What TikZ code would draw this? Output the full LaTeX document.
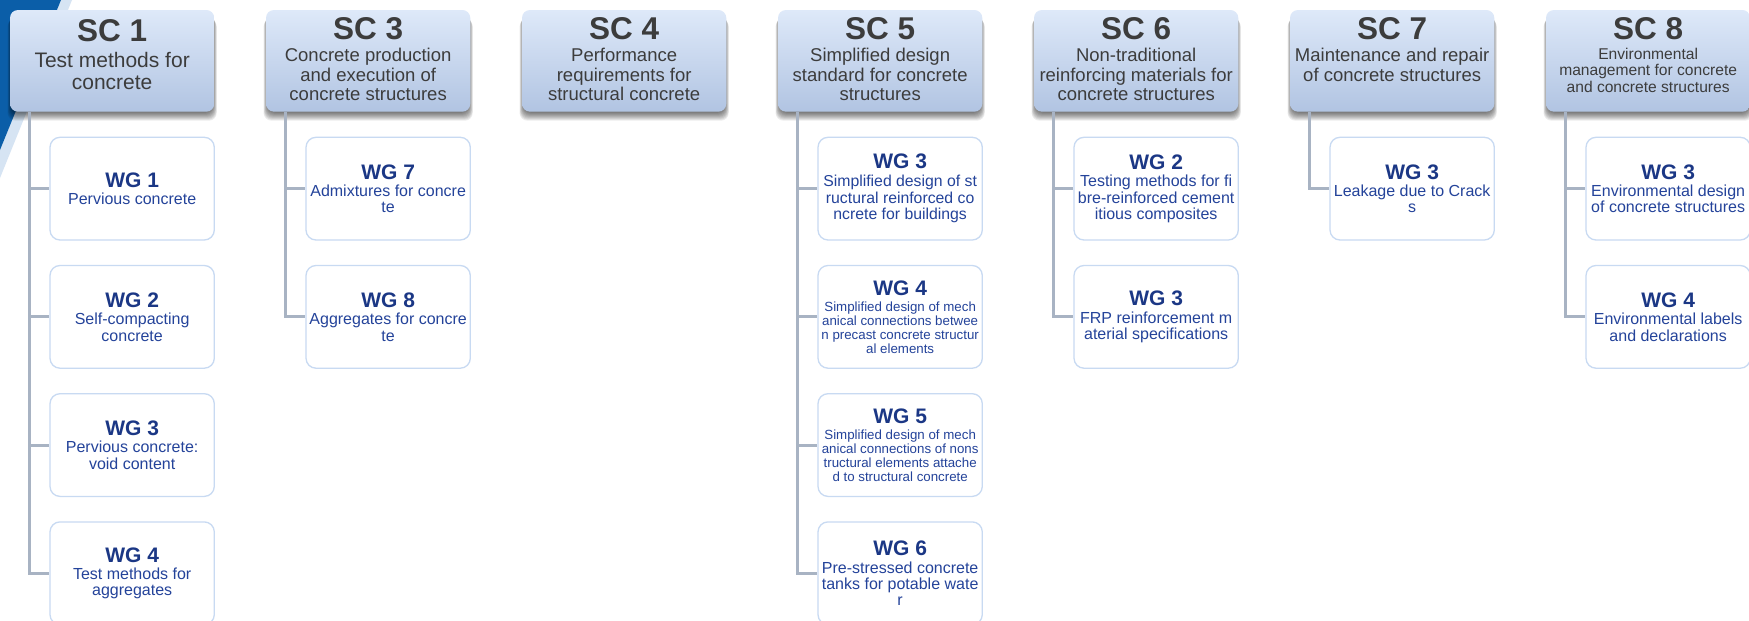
\documentclass[tikz,border=0pt]{standalone}
\usepackage{fontspec}
\setmainfont{Liberation Sans}
\definecolor{scTop}{HTML}{DEE9F9}
\definecolor{scBot}{HTML}{B1C4E2}
\definecolor{scText}{HTML}{3C3C3C}
\definecolor{wgBorder}{HTML}{C8DAF2}
\definecolor{wgTitle}{HTML}{1B3785}
\definecolor{wgText}{HTML}{24439A}
\definecolor{linkCol}{HTML}{A8B3C3}
\definecolor{swooshBlue}{HTML}{0B5EA8}
\definecolor{swooshLight}{HTML}{D6E4F3}
\newcommand\wgtitle[1]{{\fontsize{21}{21}\selectfont\bfseries\color{wgTitle}#1}}
\newcommand\topstrut{\rule{0pt}{16pt}}
\newcommand\scshade[1]{%
  \foreach \e in {-3,-2,...,5} {%
    \fill[black, opacity=0.075, rounded corners=8pt]
      ({#1-0.5*\e},{14+\e}) rectangle ({#1+204.3+0.5*\e},{115.7+\e});
  }}
\begin{document}
\begin{tikzpicture}[x=1pt,y=-1pt,
 scbox/.style={rounded corners=8pt, minimum width=204.3pt, minimum height=101.7pt, inner sep=0pt,
   top color=scTop, bottom color=scBot, draw=none},
 sctitle/.style={anchor=base, inner sep=0pt, text=scText, font=\fontsize{31.5}{31.5}\selectfont\bfseries},
 scdesc/.style={anchor=north, inner sep=0pt, text=scText, align=center, font=\fontsize{18.5}{19.3}\selectfont},
 wgbox/.style={draw=wgBorder, line width=1.3pt, fill=white, rounded corners=10pt,
   minimum width=164.3pt, minimum height=102.7pt, inner sep=0pt, align=center, text=wgText,
   font=\fontsize{16}{16.3}\selectfont},
 wgsmall/.style={font=\fontsize{13.3}{14}\selectfont},
 link/.style={draw=linkCol, line width=3pt}]
\useasboundingbox (0,0) rectangle (1749,621);
\fill[white] (0,0) rectangle (1749,621);
\fill[swooshLight] (61,0) -- (72,0) -- (0,178) -- (0,150) -- cycle;
\fill[swooshBlue] (0,0) -- (61,0) -- (0,150) -- cycle;

% soft shadows under the SC boxes
\scshade{10}
\scshade{266}
\scshade{522}
\scshade{778}
\scshade{1034}
\scshade{1290}
\scshade{1546}

% SC boxes
\node[scbox] (sc1) at (112.15,60.85) {};
\node[sctitle] (sc1t) at (112.15,41.7) {SC 1};
\node[scdesc, font=\fontsize{21}{21.7}\selectfont] (sc1d) at (112.15,51.7) {\topstrut Test methods for\\concrete};

\node[scbox] (sc3) at (368.15,60.85) {};
\node[sctitle] (sc3t) at (368.15,39.5) {SC 3};
\node[scdesc] (sc3d) at (368.15,45.7) {\topstrut Concrete production\\and execution of\\concrete structures};

\node[scbox] (sc4) at (624.15,60.85) {};
\node[sctitle] (sc4t) at (624.15,39.5) {SC 4};
\node[scdesc] (sc4d) at (624.15,45.7) {\topstrut Performance\\requirements for\\structural concrete};

\node[scbox] (sc5) at (880.15,60.85) {};
\node[sctitle] (sc5t) at (880.15,39.5) {SC 5};
\node[scdesc] (sc5d) at (880.15,45.7) {\topstrut Simplified design\\standard for concrete\\structures};

\node[scbox] (sc6) at (1136.15,60.85) {};
\node[sctitle] (sc6t) at (1136.15,39.5) {SC 6};
\node[scdesc] (sc6d) at (1136.15,45.7) {\topstrut Non-traditional\\reinforcing materials for\\concrete structures};

\node[scbox] (sc7) at (1392.15,60.85) {};
\node[sctitle] (sc7t) at (1392.15,39.5) {SC 7};
\node[scdesc] (sc7d) at (1392.15,45.7) {\topstrut Maintenance and repair\\of concrete structures};

\node[scbox] (sc8) at (1648.15,60.85) {};
\node[sctitle] (sc8t) at (1648.15,39.5) {SC 8};
\node[scdesc, font=\fontsize{15.6}{16.5}\selectfont] (sc8d) at (1648.15,43) {\topstrut Environmental\\management for concrete\\and concrete structures};

% WG boxes - SC1
\node[wgbox] (w1a) at (132.15,188.65) {\wgtitle{WG 1}\\[1.2pt]Pervious concrete};
\node[wgbox] (w1b) at (132.15,316.85) {\wgtitle{WG 2}\\[1.2pt]Self-compacting\\concrete};
\node[wgbox] (w1c) at (132.15,445.05) {\wgtitle{WG 3}\\[1.2pt]Pervious concrete:\\void content};
\node[wgbox] (w1d) at (132.15,573.25) {\wgtitle{WG 4}\\[1.2pt]Test methods for\\aggregates};
% SC3
\node[wgbox] (w3a) at (388.15,188.65) {\wgtitle{WG 7}\\[1.2pt]Admixtures for concre\\te};
\node[wgbox] (w3b) at (388.15,316.85) {\wgtitle{WG 8}\\[1.2pt]Aggregates for concre\\te};
% SC5
\node[wgbox, font=\fontsize{15.8}{16.7}\selectfont] (w5a) at (900.15,188.65) {\wgtitle{WG 3}\\[0.9pt]Simplified design of st\\ructural reinforced co\\ncrete for buildings};
\node[wgbox, wgsmall] (w5b) at (900.15,316.85) {\wgtitle{WG 4}\\[2pt]Simplified design of mech\\anical connections betwee\\n precast concrete structur\\al elements};
\node[wgbox, wgsmall] (w5c) at (900.15,445.05) {\wgtitle{WG 5}\\[2pt]Simplified design of mech\\anical connections of nons\\tructural elements attache\\d to structural concrete};
\node[wgbox] (w5d) at (900.15,573.25) {\wgtitle{WG 6}\\[1.2pt]Pre-stressed concrete\\tanks for potable wate\\r};
% SC6
\node[wgbox] (w6a) at (1156.15,188.65) {\wgtitle{WG 2}\\[1.2pt]Testing methods for fi\\bre-reinforced cement\\itious composites};
\node[wgbox] (w6b) at (1156.15,316.85) {\wgtitle{WG 3}\\[1.2pt]FRP reinforcement m\\aterial specifications};
% SC7
\node[wgbox] (w7a) at (1412.15,188.65) {\wgtitle{WG 3}\\[1.2pt]Leakage due to Crack\\s};
% SC8
\node[wgbox] (w8a) at (1668.15,188.65) {\wgtitle{WG 3}\\[1.2pt]Environmental design\\of concrete structures};
\node[wgbox] (w8b) at (1668.15,316.85) {\wgtitle{WG 4}\\[1.2pt]Environmental labels\\and declarations};

% connectors
\foreach \s/\w in {sc1/w1a,sc1/w1b,sc1/w1c,sc1/w1d,sc3/w3a,sc3/w3b,sc5/w5a,sc5/w5b,sc5/w5c,sc5/w5d,sc6/w6a,sc6/w6b,sc7/w7a,sc8/w8a,sc8/w8b}
  \draw[link] ([xshift=20pt]\s.south west) |- (\w.west);
\end{tikzpicture}
\end{document}
